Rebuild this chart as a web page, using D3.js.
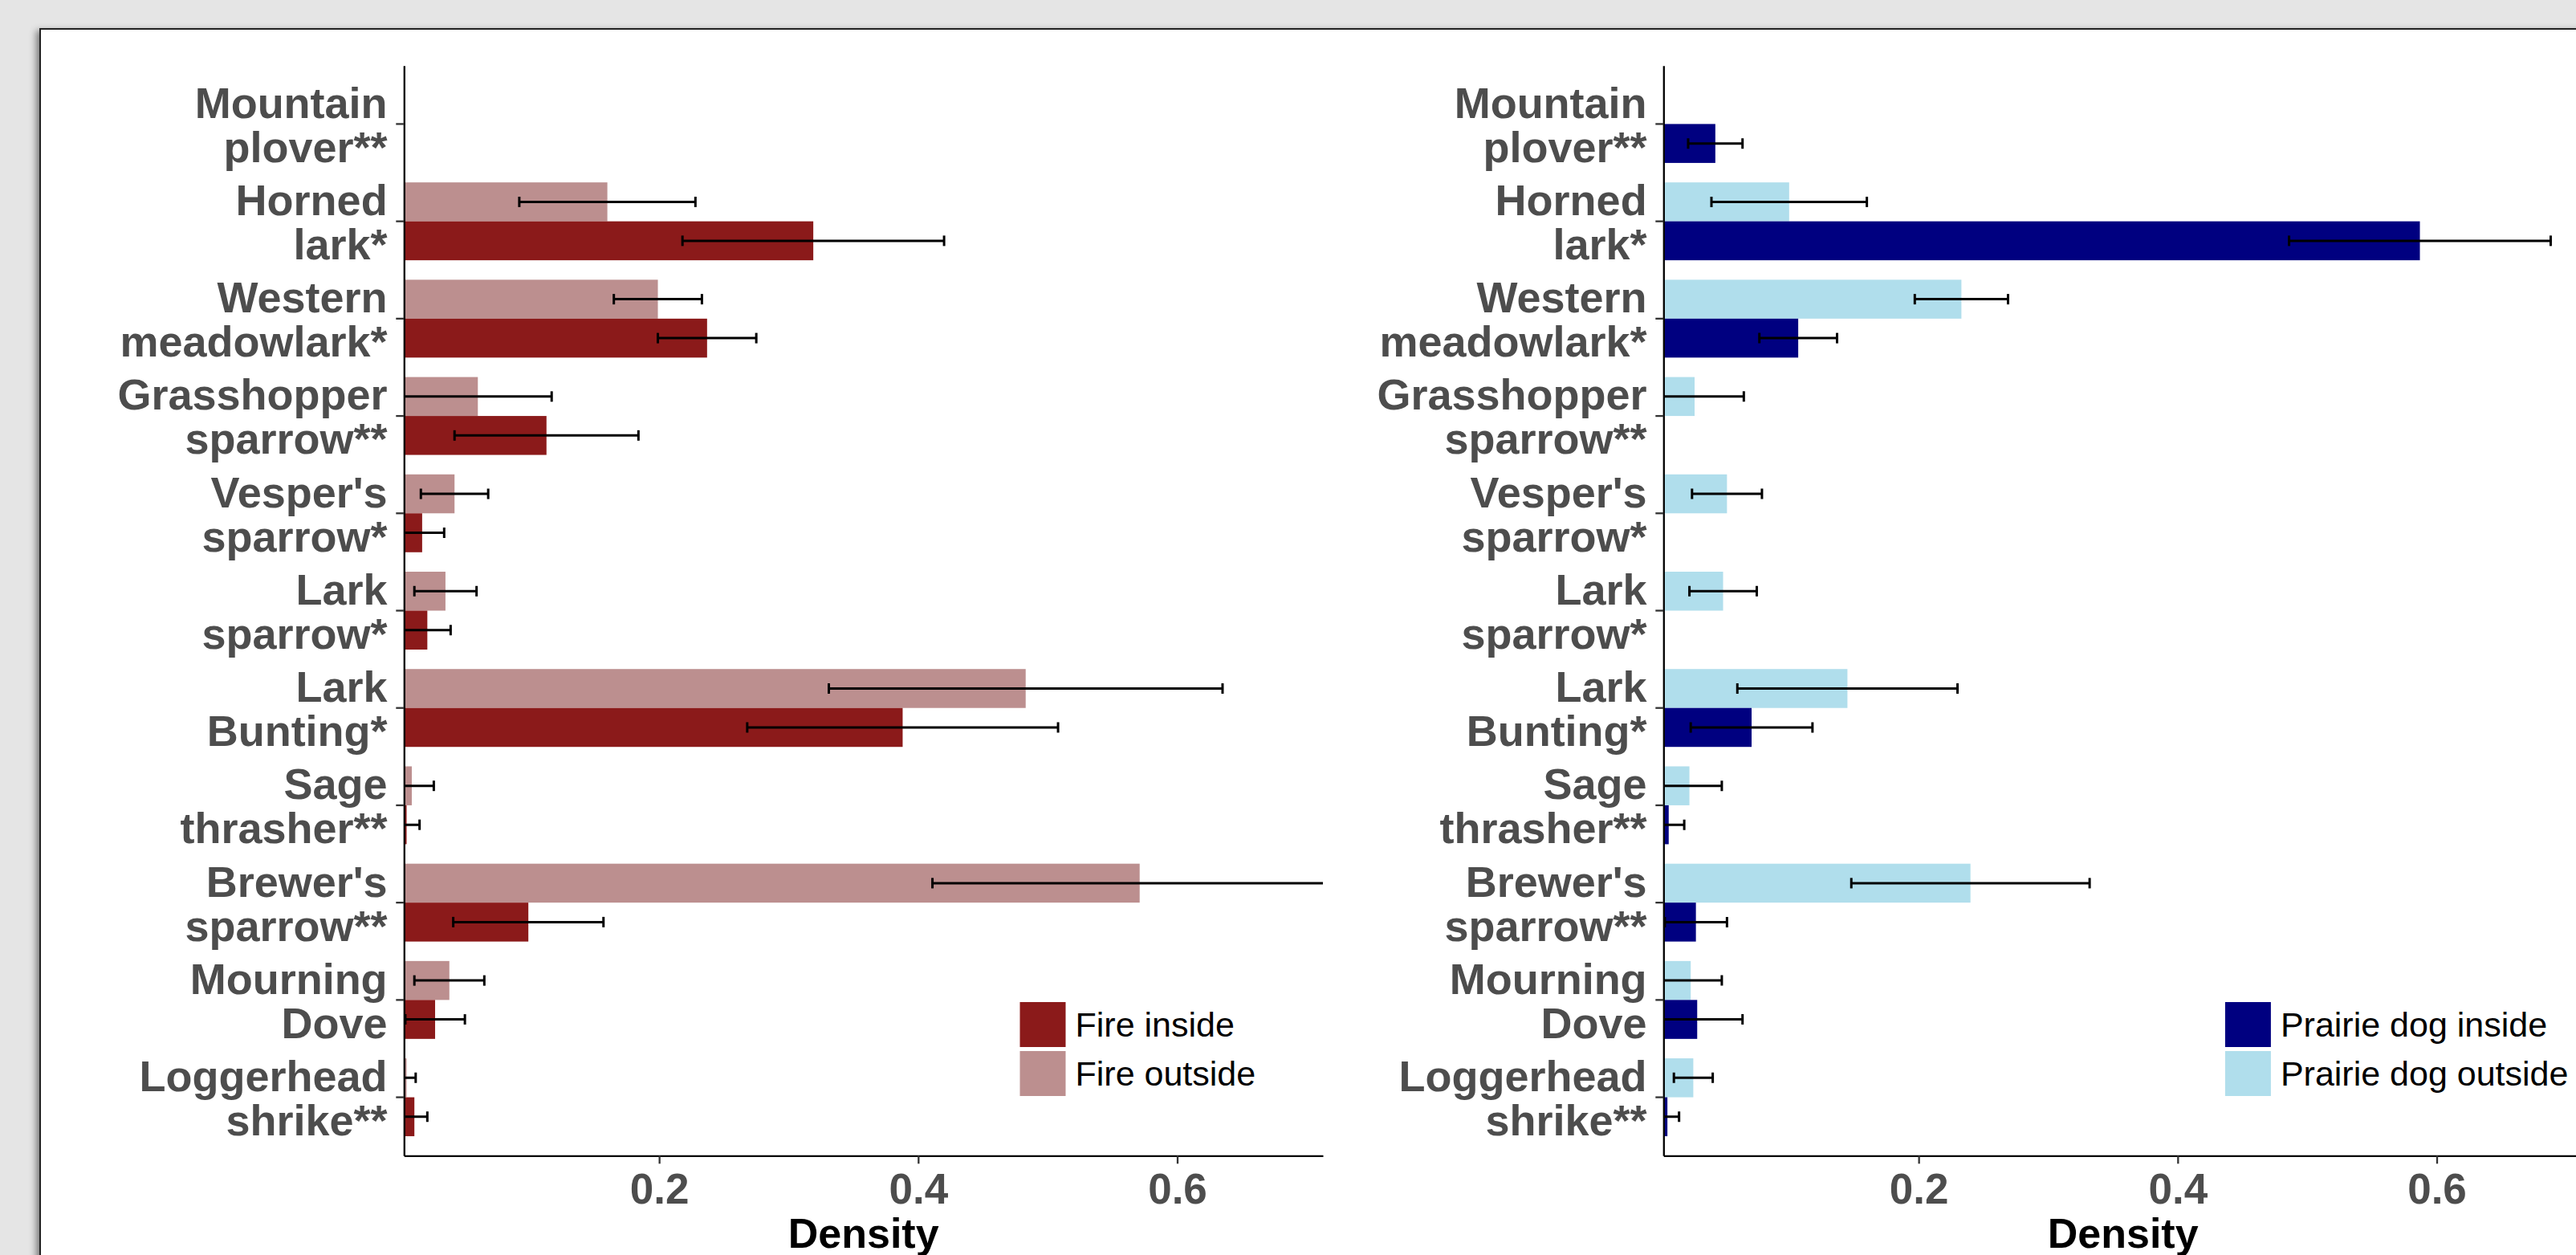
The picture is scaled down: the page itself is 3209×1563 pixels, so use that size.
<!DOCTYPE html>
<meta charset="utf-8">
<style>
body { margin: 0; background: #e5e5e5; }
text { font-family: "Liberation Sans", Arial, sans-serif; }
</style>
<body>
<script src="https://d3js.org/d3.v7.min.js"></script>
<script>

// Size of the page
const width = 3209
const height = 1563

// Species, top to bottom
const species = [
  "Mountain\nplover**", "Horned\nlark*", "Western\nmeadowlark*", "Grasshopper\nsparrow**",
  "Vesper's\nsparrow*", "Lark\nsparrow*", "Lark\nBunting*", "Sage\nthrasher**",
  "Brewer's\nsparrow**", "Mourning\nDove", "Loggerhead\nshrike**"
]

// Fire panel: density and error (half width)
const fireInside     = [0, 0.319, 0.237, 0.113, 0.017, 0.021, 0.388, 0.005, 0.099, 0.027, 0.011]
const fireInsideErr  = [0, 0.101, 0.038, 0.071, 0.017, 0.018, 0.120, 0.010, 0.058, 0.023, 0.010]
const fireOutside    = [0, 0.160, 0.199, 0.060, 0.042, 0.035, 0.483, 0.009, 0.571, 0.038, 0.005]
const fireOutsideErr = [0, 0.068, 0.034, 0.057, 0.026, 0.024, 0.152, 0.017, 0.160, 0.027, 0.007]

// Prairie dog panel
const dogInside     = [0.043, 0.587, 0.107, 0, 0, 0, 0.071, 0.007, 0.028, 0.029, 0.006]
const dogInsideErr  = [0.021, 0.101, 0.030, 0, 0, 0, 0.047, 0.012, 0.024, 0.035, 0.009]
const dogOutside    = [0, 0.100, 0.233, 0.027, 0.052, 0.049, 0.145, 0.023, 0.240, 0.024, 0.026]
const dogOutsideErr = [0, 0.060, 0.036, 0.038, 0.027, 0.026, 0.085, 0.025, 0.092, 0.024, 0.015]

const xTicks = [0.2, 0.4, 0.6]

const svg = d3.select("body")
  .append("svg")
  .attr("width", width)
  .attr("height", height)

// grey page + white sheet with a small shadow
svg.append("rect").attr("width", width).attr("height", height).attr("fill", "#e5e5e5")
const defs = svg.append("defs")
defs.append("filter").attr("id", "shadow")
  .attr("x", "-5%").attr("y", "-5%").attr("width", "110%").attr("height", "110%")
  .append("feDropShadow")
  .attr("dx", -4).attr("dy", 3).attr("stdDeviation", 4)
  .attr("flood-color", "#000").attr("flood-opacity", 0.45)
svg.append("rect")
  .attr("x", 50).attr("y", 36)
  .attr("width", 3300).attr("height", 1700)
  .attr("fill", "white")
  .attr("stroke", "#222").attr("stroke-width", 2)
  .attr("filter", "url(#shadow)")

const yTop = 81.7, yBottom = 1439.3

const y = d3.scaleBand()
  .domain(species)
  .range([yTop, yBottom])
  .paddingInner(0)
  .paddingOuter(0.1)

function drawPanel(p, id) {
  const x = d3.scaleLinear()
    .domain([0.003, 0.7125])
    .range([p.left, p.right])

  const g = svg.append("g")

  defs.append("clipPath").attr("id", id)
    .append("rect")
    .attr("x", p.left).attr("y", yTop)
    .attr("width", p.right - p.left).attr("height", yBottom - yTop)

  const bh = y.bandwidth() * 0.4
  const rows = species.map((s, i) => [
    { s: s, v: p.outside[i], e: p.outsideErr[i], off: -bh, color: p.outColor },
    { s: s, v: p.inside[i], e: p.insideErr[i], off: 0, color: p.inColor }
  ]).flat()

  const plot = g.append("g").attr("clip-path", `url(#${id})`)

  // bars
  plot.selectAll("rect.bar")
    .data(rows.filter(d => d.v > 0))
    .join("rect")
    .attr("class", "bar")
    .attr("x", x(x.domain()[0]))
    .attr("y", d => y(d.s) + y.bandwidth() / 2 + d.off)
    .attr("width", d => Math.max(0, x(d.v) - x(x.domain()[0])))
    .attr("height", bh)
    .attr("fill", d => d.color)

  // error bars
  const eb = plot.selectAll("g.err")
    .data(rows.filter(d => d.v > 0))
    .join("g")
    .attr("class", "err")
    .attr("stroke", "black")
    .attr("stroke-width", 3)
  const cy = d => y(d.s) + y.bandwidth() / 2 + d.off + bh / 2
  eb.append("line")
    .attr("x1", d => x(d.v - d.e)).attr("x2", d => x(d.v + d.e))
    .attr("y1", cy).attr("y2", cy)
  eb.append("line")
    .attr("x1", d => x(d.v - d.e)).attr("x2", d => x(d.v - d.e))
    .attr("y1", d => cy(d) - 6.5).attr("y2", d => cy(d) + 6.5)
  eb.append("line")
    .attr("x1", d => x(d.v + d.e)).attr("x2", d => x(d.v + d.e))
    .attr("y1", d => cy(d) - 6.5).attr("y2", d => cy(d) + 6.5)

  // y axis with two-line labels
  const ya = g.append("g")
    .attr("transform", `translate(${p.left},0)`)
    .call(d3.axisLeft(y).tickSize(10).tickPadding(10.7).tickSizeOuter(0))
  ya.select(".domain").attr("stroke", "black").attr("stroke-width", 2.3)
  ya.selectAll(".tick line").attr("stroke", "#333").attr("stroke-width", 2.3)
  ya.selectAll(".tick text").each(function (d) {
    const t = d3.select(this).text(null).attr("dy", null)
      .attr("font-size", 54).attr("font-weight", "bold").attr("fill", "#4d4d4d")
    const lines = d.split("\n")
    t.append("tspan").attr("x", -20.7).attr("y", -7.6).text(lines[0])
    t.append("tspan").attr("x", -20.7).attr("y", 47.4).text(lines[1])
  })

  // x axis
  const xa = g.append("g")
    .attr("transform", `translate(0,${yBottom})`)
    .call(d3.axisBottom(x).tickValues(xTicks).tickSize(10).tickSizeOuter(0).tickFormat(d3.format(".1f")))
  xa.select(".domain").attr("stroke", "black").attr("stroke-width", 2.3)
  xa.selectAll(".tick line").attr("stroke", "#333").attr("stroke-width", 2.3)
  xa.selectAll(".tick text")
    .attr("y", 60).attr("dy", null)
    .attr("font-size", 53).attr("font-weight", "bold").attr("fill", "#4d4d4d")

  g.append("text")
    .attr("x", (p.left + p.right) / 2)
    .attr("y", 1554)
    .attr("text-anchor", "middle")
    .attr("font-size", 52).attr("font-weight", "bold")
    .text("Density")

  // legend
  const lg = g.append("g").attr("transform", `translate(${p.legendX},1248)`)
  const keys = [[p.inColor, p.labels[0]], [p.outColor, p.labels[1]]]
  keys.forEach((k, i) => {
    lg.append("rect").attr("x", 0).attr("y", i * 61)
      .attr("width", 57).attr("height", 56).attr("fill", k[0])
    lg.append("text").attr("x", 69).attr("y", i * 61 + 43)
      .attr("font-size", 43).text(k[1])
  })
}

drawPanel({
  left: 503.3, right: 1648,
  inside: fireInside, insideErr: fireInsideErr,
  outside: fireOutside, outsideErr: fireOutsideErr,
  inColor: "#8b1a1a", outColor: "#bc8f8f",
  legendX: 1270.5, labels: ["Fire inside", "Fire outside"]
}, "clipFire")

drawPanel({
  left: 2072.3, right: 3217,
  inside: dogInside, insideErr: dogInsideErr,
  outside: dogOutside, outsideErr: dogOutsideErr,
  inColor: "#000080", outColor: "#b0deec",
  legendX: 2771.9, labels: ["Prairie dog inside", "Prairie dog outside"]
}, "clipDog")

</script>
</body>
</html>
